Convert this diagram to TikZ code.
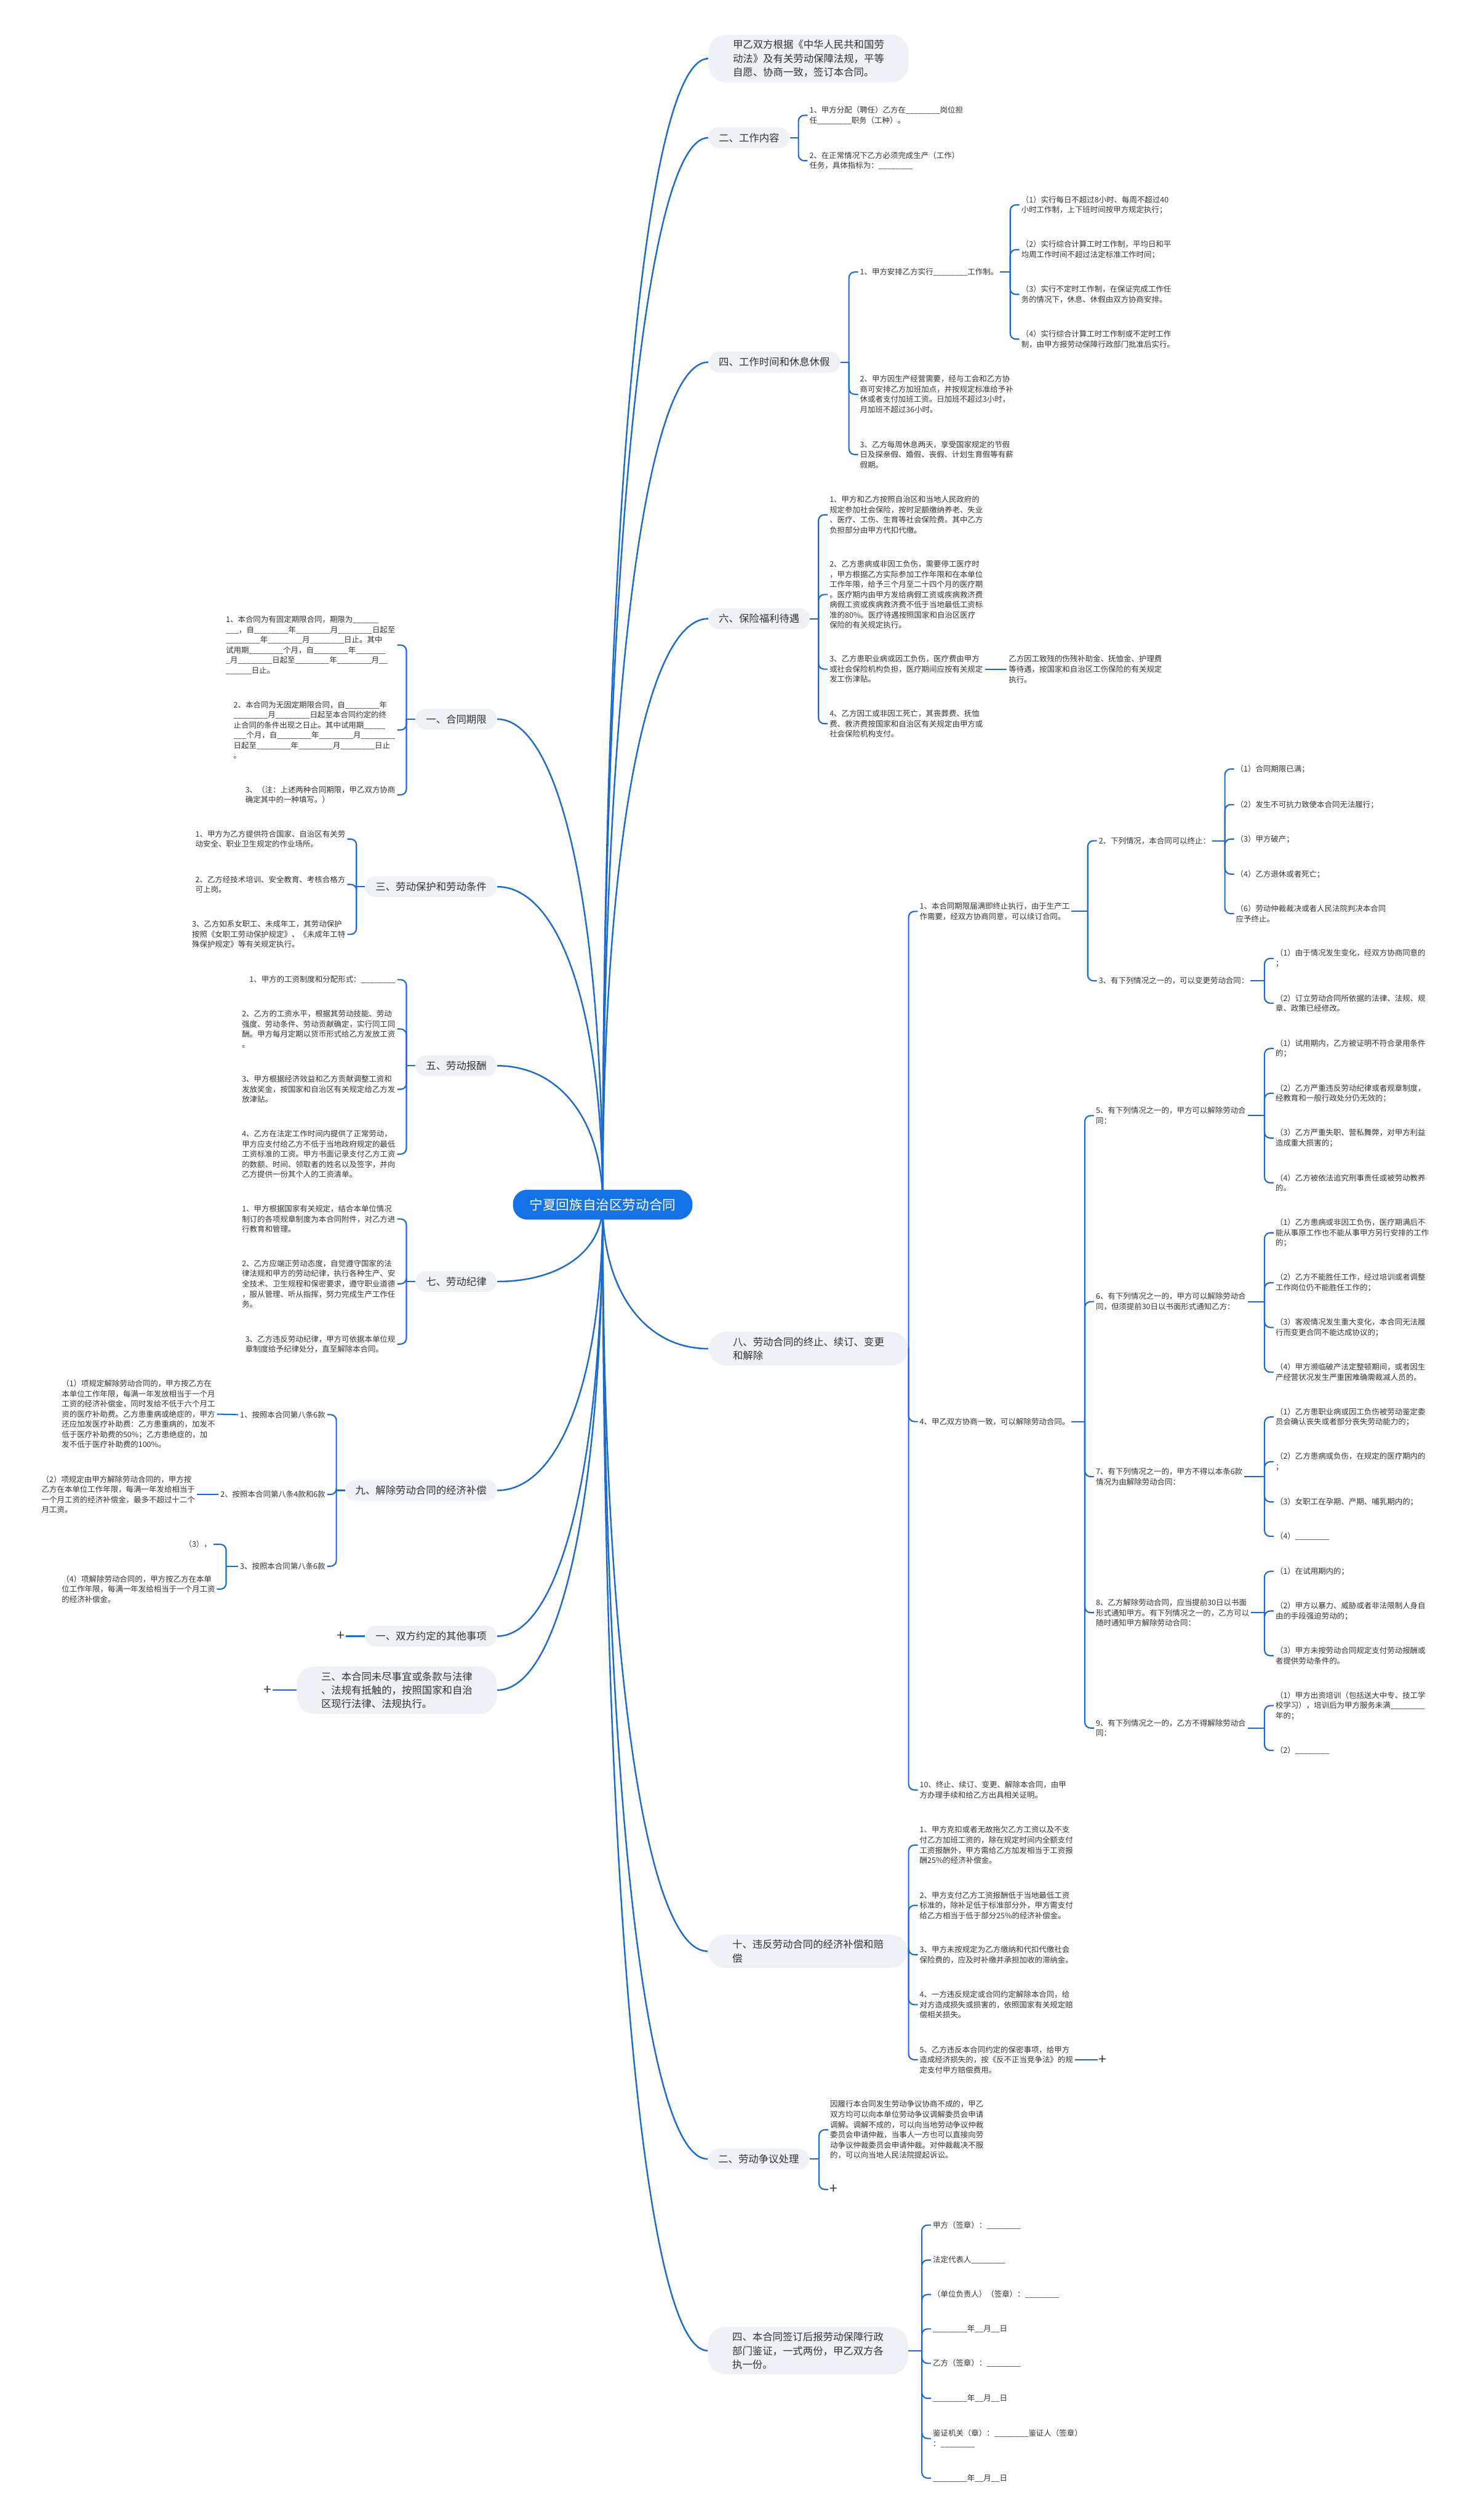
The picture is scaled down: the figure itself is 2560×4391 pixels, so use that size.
\documentclass[tikz,border=0pt]{standalone}
\usepackage{fontspec}
\setmainfont{Noto Sans CJK SC}
\usepackage{tikz}
\usetikzlibrary{
    positioning,
    calc,
    backgrounds
}

\definecolor{hubblue}{HTML}{1373E6}
\definecolor{lineblue}{HTML}{1D6ACD}
\definecolor{topicbg}{HTML}{EEF2F6}
\definecolor{inkgray}{HTML}{333333}

\newcommand{\leafsize}{\fontsize{7.6pt}{10.1pt}\selectfont}
\newcommand{\topicsize}{\fontsize{10pt}{13.6pt}\selectfont}
\newcommand{\hubsize}{\fontsize{13.2pt}{16pt}\selectfont}
\newcommand{\plussize}{\fontsize{14pt}{14pt}\selectfont}
\newcommand{\bk}{\_\_\_\_\_\_\_\_}

% parent -> children, trunk just before the children
\newcommand{\kidsR}[3]{%
    \path (#1.east -| #2.west) ++(-16,0) coordinate (#1-t);
    \draw[elbow] (#1.east) -- (#1-t);
    \foreach \k in {#3} {\draw[elbow, rounded corners=0.2cm] (#1-t) |- (\k.west);}
}
\newcommand{\kidsL}[3]{%
    \path (#1.west -| #2.east) ++(16,0) coordinate (#1-t);
    \draw[elbow] (#1.west) -- (#1-t);
    \foreach \k in {#3} {\draw[elbow, rounded corners=0.2cm] (#1-t) |- (\k.east);}
}
% hub -> main topics
\newcommand{\linkR}[1]{%
    \draw[spoke] let \p1=(hub.center), \p2=(#1.west) in
        (\p1) .. controls (\x1,{\y1+0.6*(\y2-\y1)}) and ({\x1+0.4*(\x2-\x1)},\y2) .. (\p2);}
\newcommand{\linkL}[1]{%
    \draw[spoke] let \p1=(hub.center), \p2=(#1.east) in
        (\p1) .. controls (\x1,{\y1+0.6*(\y2-\y1)}) and ({\x1+0.4*(\x2-\x1)},\y2) .. (\p2);}

\begin{document}
\begin{tikzpicture}[x=0.02cm, y=-0.02cm,
    hub/.style={fill=hubblue, text=white, font=\hubsize, rounded corners=0.5cm,
                minimum width=6.26cm, minimum height=1.04cm},
    topic/.style={anchor=west, fill=topicbg, text=inkgray, font=\topicsize,
                  rounded corners=0.36cm, inner xsep=0.36cm, inner ysep=0.2cm},
    ltopic/.style={topic, anchor=east},
    wtopic/.style={topic, align=left, inner xsep=0.85cm, inner ysep=0.18cm, rounded corners=0.6cm},
    lwtopic/.style={wtopic, anchor=east},
    leaf/.style={anchor=west, align=left, font=\leafsize, text=inkgray,
                 inner xsep=0.06cm, inner ysep=0.06cm},
    lleaf/.style={leaf, anchor=east},
    plusmark/.style={font=\plussize, text=inkgray, inner sep=1pt},
    spoke/.style={draw=lineblue, line width=1.5pt},
    elbow/.style={draw=lineblue, line width=1.3pt}]
\useasboundingbox (0,0) rectangle (2560,4391);
\begin{scope}[on background layer]
    \fill[white] (0,0) rectangle (2560,4391);
\end{scope}

% centre
\node[hub] (hub) at (1050,2099) {宁夏回族自治区劳动合同};

% ---- right side ----
\node[wtopic] (intro) at (1234,102) {甲乙双方根据《中华人民共和国劳\\动法》及有关劳动保障法规，平等\\自愿、协商一致，签订本合同。};

\node[topic] (duty) at (1234,240) {二、工作内容};
\node[leaf] (duty1) at (1407,201) {1、甲方分配（聘任）乙方在\bk{}岗位担\\任\bk{}职务（工种）。};
\node[leaf] (duty2) at (1407,280) {2、在正常情况下乙方必须完成生产（工作）\\任务，具体指标为：\bk};

\node[topic] (hours) at (1234,631) {四、工作时间和休息休假};
\node[leaf] (hours1) at (1495,474) {1、甲方安排乙方实行\bk{}工作制。};
\node[leaf] (hours2) at (1495,687) {2、甲方因生产经营需要，经与工会和乙方协\\商可安排乙方加班加点，并按规定标准给予补\\休或者支付加班工资。日加班不超过3小时，\\月加班不超过36小时。};
\node[leaf] (hours3) at (1495,792) {3、乙方每周休息两天，享受国家规定的节假\\日及探亲假、婚假、丧假、计划生育假等有薪\\假期。};
\node[leaf] (hours1a) at (1776,357) {（1）实行每日不超过8小时、每周不超过40\\小时工作制，上下班时间按甲方规定执行；};
\node[leaf] (hours1b) at (1776,435) {（2）实行综合计算工时工作制，平均日和平\\均周工作时间不超过法定标准工作时间；};
\node[leaf] (hours1c) at (1776,513) {（3）实行不定时工作制，在保证完成工作任\\务的情况下，休息、休假由双方协商安排。};
\node[leaf] (hours1d) at (1776,591) {（4）实行综合计算工时工作制或不定时工作\\制，由甲方报劳动保障行政部门批准后实行。};

\node[topic] (insure) at (1234,1078) {六、保险福利待遇};
\node[leaf] (insure1) at (1442,897) {1、甲方和乙方按照自治区和当地人民政府的\\规定参加社会保险，按时足额缴纳养老、失业\\、医疗、工伤、生育等社会保险费。其中乙方\\负担部分由甲方代扣代缴。};
\node[leaf] (insure2) at (1442,1036) {2、乙方患病或非因工负伤，需要停工医疗时\\，甲方根据乙方实际参加工作年限和在本单位\\工作年限，给予三个月至二十四个月的医疗期\\。医疗期内由甲方发给病假工资或疾病救济费\\病假工资或疾病救济费不低于当地最低工资标\\准的80\%。医疗待遇按照国家和自治区医疗\\保险的有关规定执行。};
\node[leaf] (insure3) at (1442,1166) {3、乙方患职业病或因工负伤，医疗费由甲方\\或社会保险机构负担，医疗期间应按有关规定\\发工伤津贴。};
\node[leaf] (insure3a) at (1754,1166) {乙方因工致残的伤残补助金、抚恤金、护理费\\等待遇，按国家和自治区工伤保险的有关规定\\执行。};
\node[leaf] (insure4) at (1442,1261) {4、乙方因工或非因工死亡，其丧葬费、抚恤\\费、救济费按国家和自治区有关规定由甲方或\\社会保险机构支付。};

\node[wtopic] (change) at (1234,2350) {八、劳动合同的终止、续订、变更\\和解除};
\node[leaf] (change1) at (1599,1588) {1、本合同期限届满即终止执行，由于生产工\\作需要，经双方协商同意，可以续订合同。};
\node[leaf] (stop) at (1911,1465) {2、下列情况，本合同可以终止：};
\node[leaf] (stop1) at (2150,1340) {（1）合同期限已满；};
\node[leaf] (stop2) at (2150,1402) {（2）发生不可抗力致使本合同无法履行；};
\node[leaf] (stop3) at (2150,1462) {（3）甲方破产；};
\node[leaf] (stop4) at (2150,1523) {（4）乙方退休或者死亡；};
\node[leaf] (stop6) at (2150,1592) {（6）劳动仲裁裁决或者人民法院判决本合同\\应予终止。};
\node[leaf] (alter) at (1911,1709) {3、有下列情况之一的，可以变更劳动合同：};
\node[leaf] (alter1) at (2219,1670) {（1）由于情况发生变化，经双方协商同意的\\；};
\node[leaf] (alter2) at (2219,1748) {（2）订立劳动合同所依据的法律、法规、规\\章、政策已经修改。};
\node[leaf] (change4) at (1599,2477) {4、甲乙双方协商一致，可以解除劳动合同。};
\node[leaf] (fire5) at (1906,1944) {5、有下列情况之一的，甲方可以解除劳动合\\同：};
\node[leaf] (fire5a) at (2219,1827) {（1）试用期内，乙方被证明不符合录用条件\\的；};
\node[leaf] (fire5b) at (2219,1905) {（2）乙方严重违反劳动纪律或者规章制度，\\经教育和一般行政处分仍无效的；};
\node[leaf] (fire5c) at (2219,1983) {（3）乙方严重失职、营私舞弊，对甲方利益\\造成重大损害的；};
\node[leaf] (fire5d) at (2219,2061) {（4）乙方被依法追究刑事责任或被劳动教养\\的。};
\node[leaf] (fire6) at (1906,2268) {6、有下列情况之一的，甲方可以解除劳动合\\同，但须提前30日以书面形式通知乙方：};
\node[leaf] (fire6a) at (2219,2148) {（1）乙方患病或非因工负伤，医疗期满后不\\能从事原工作也不能从事甲方另行安排的工作\\的；};
\node[leaf] (fire6b) at (2219,2235) {（2）乙方不能胜任工作，经过培训或者调整\\工作岗位仍不能胜任工作的；};
\node[leaf] (fire6c) at (2219,2313) {（3）客观情况发生重大变化，本合同无法履\\行而变更合同不能达成协议的；};
\node[leaf] (fire6d) at (2219,2391) {（4）甲方濒临破产法定整顿期间，或者因生\\产经营状况发生严重困难确需裁减人员的。};
\node[leaf] (fire7) at (1906,2573) {7、有下列情况之一的，甲方不得以本条6款\\情况为由解除劳动合同：};
\node[leaf] (fire7a) at (2219,2469) {（1）乙方患职业病或因工负伤被劳动鉴定委\\员会确认丧失或者部分丧失劳动能力的；};
\node[leaf] (fire7b) at (2219,2547) {（2）乙方患病或负伤，在规定的医疗期内的\\；};
\node[leaf] (fire7c) at (2219,2617) {（3）女职工在孕期、产期、哺乳期内的；};
\node[leaf] (fire7d) at (2219,2677) {（4）\bk};
\node[leaf] (quit8) at (1906,2810) {8、乙方解除劳动合同，应当提前30日以书面\\形式通知甲方。有下列情况之一的，乙方可以\\随时通知甲方解除劳动合同：};
\node[leaf] (quit8a) at (2219,2738) {（1）在试用期内的；};
\node[leaf] (quit8b) at (2219,2807) {（2）甲方以暴力、威胁或者非法限制人身自\\由的手段强迫劳动的；};
\node[leaf] (quit8c) at (2219,2885) {（3）甲方未按劳动合同规定支付劳动报酬或\\者提供劳动条件的。};
\node[leaf] (quit9) at (1906,3011) {9、有下列情况之一的，乙方不得解除劳动合\\同：};
\node[leaf] (quit9a) at (2219,2972) {（1）甲方出资培训（包括送大中专、技工学\\校学习），培训后为甲方服务未满\bk\\年的；};
\node[leaf] (quit9b) at (2219,3050) {（2）\bk};
\node[leaf] (change10) at (1599,3119) {10、终止、续订、变更、解除本合同，由甲\\方办理手续和给乙方出具相关证明。};

\node[wtopic] (breach) at (1233,3400) {十、违反劳动合同的经济补偿和赔\\偿};
\node[leaf] (breach1) at (1599,3215) {1、甲方克扣或者无故拖欠乙方工资以及不支\\付乙方加班工资的，除在规定时间内全额支付\\工资报酬外，甲方需给乙方加发相当于工资报\\酬25\%的经济补偿金。};
\node[leaf] (breach2) at (1599,3320) {2、甲方支付乙方工资报酬低于当地最低工资\\标准的，除补足低于标准部分外，甲方需支付\\给乙方相当于低于部分25\%的经济补偿金。};
\node[leaf] (breach3) at (1599,3406) {3、甲方未按规定为乙方缴纳和代扣代缴社会\\保险费的，应及时补缴并承担加收的滞纳金。};
\node[leaf] (breach4) at (1599,3493) {4、一方违反规定或合同约定解除本合同，给\\对方造成损失或损害的，依照国家有关规定赔\\偿相关损失。};
\node[leaf] (breach5) at (1599,3589) {5、乙方违反本合同约定的保密事项，给甲方\\造成经济损失的，按《反不正当竞争法》的规\\定支付甲方赔偿费用。};
\node[plusmark] (breach5p) at (1921,3589) {+};

\node[topic] (dispute) at (1233,3762) {二、劳动争议处理};
\node[leaf] (dispute1) at (1443,3711) {因履行本合同发生劳动争议协商不成的，甲乙\\双方均可以向本单位劳动争议调解委员会申请\\调解。调解不成的，可以向当地劳动争议仲裁\\委员会申请仲裁，当事人一方也可以直接向劳\\动争议仲裁委员会申请仲裁。对仲裁裁决不服\\的，可以向当地人民法院提起诉讼。};
\node[plusmark, anchor=west] (dispute2) at (1443,3815) {+};

\node[wtopic] (sign) at (1233,4096) {四、本合同签订后报劳动保障行政\\部门鉴证，一式两份，甲乙双方各\\执一份。};
\node[leaf] (sign1) at (1622,3877) {甲方（签章）：\bk};
\node[leaf] (sign2) at (1622,3938) {法定代表人\bk};
\node[leaf] (sign3) at (1622,3998) {（单位负责人）（签章）：\bk};
\node[leaf] (sign4) at (1622,4058) {\bk{}年\_\_月\_\_日};
\node[leaf] (sign5) at (1622,4118) {乙方（签章）：\bk};
\node[leaf] (sign6) at (1622,4179) {\bk{}年\_\_月\_\_日};
\node[leaf] (sign7) at (1622,4249) {鉴证机关（章）：\bk{}鉴证人（签章）\\：\bk};
\node[leaf] (sign8) at (1622,4318) {\bk{}年\_\_月\_\_日};

% ---- left side ----
\node[ltopic] (term) at (866,1253) {一、合同期限};
\node[lleaf] (term1) at (692,1124) {1、本合同为有固定期限合同，期限为\_\_\_\_\_\_\\\_\_\_，自\bk{}年\bk{}月\bk{}日起至\\\bk{}年\bk{}月\bk{}日止。其中\\试用期\bk{}个月，自\bk{}年\_\_\_\_\_\_\_\\\_月\bk{}日起至\bk{}年\bk{}月\_\_\\\_\_\_\_\_\_日止。};
\node[lleaf] (term2) at (692,1272) {2、本合同为无固定期限合同，自\bk{}年\\\bk{}月\bk{}日起至本合同约定的终\\止合同的条件出现之日止。其中试用期\_\_\_\_\_\\\_\_\_个月，自\bk{}年\bk{}月\bk\\日起至\bk{}年\bk{}月\bk{}日止\\。};
\node[lleaf] (term3) at (692,1385) {3、（注：上述两种合同期限，甲乙双方协商\\确定其中的一种填写。）};

\node[ltopic] (protect) at (866,1545) {三、劳动保护和劳动条件};
\node[lleaf] (protect1) at (605,1462) {1、甲方为乙方提供符合国家、自治区有关劳\\动安全、职业卫生规定的作业场所。};
\node[lleaf] (protect2) at (605,1541) {2、乙方经技术培训、安全教育、考核合格方\\可上岗。};
\node[lleaf] (protect3) at (605,1628) {3、乙方如系女职工、未成年工，其劳动保护\\按照《女职工劳动保护规定》、《未成年工特\\殊保护规定》等有关规定执行。};

\node[ltopic] (pay) at (866,1857) {五、劳动报酬};
\node[lleaf] (pay1) at (692,1707) {1、甲方的工资制度和分配形式：\bk};
\node[lleaf] (pay2) at (692,1793) {2、乙方的工资水平，根据其劳动技能、劳动\\强度、劳动条件、劳动贡献确定，实行同工同\\酬。甲方每月定期以货币形式给乙方发放工资\\。};
\node[lleaf] (pay3) at (692,1898) {3、甲方根据经济效益和乙方贡献调整工资和\\发放奖金，按国家和自治区有关规定给乙方发\\放津贴。};
\node[lleaf] (pay4) at (692,2011) {4、乙方在法定工作时间内提供了正常劳动，\\甲方应支付给乙方不低于当地政府规定的最低\\工资标准的工资。甲方书面记录支付乙方工资\\的数额、时间、领取者的姓名以及签字，并向\\乙方提供一份其个人的工资清单。};

\node[ltopic] (rules) at (866,2233) {七、劳动纪律};
\node[lleaf] (rules1) at (692,2124) {1、甲方根据国家有关规定，结合本单位情况\\制订的各项规章制度为本合同附件，对乙方进\\行教育和管理。};
\node[lleaf] (rules2) at (692,2237) {2、乙方应端正劳动态度，自觉遵守国家的法\\律法规和甲方的劳动纪律，执行各种生产、安\\全技术、卫生规程和保密要求，遵守职业道德\\，服从管理、听从指挥，努力完成生产工作任\\务。};
\node[lleaf] (rules3) at (692,2342) {3、乙方违反劳动纪律，甲方可依据本单位规\\章制度给予纪律处分，直至解除本合同。};

\node[ltopic] (comp) at (866,2597) {九、解除劳动合同的经济补偿};
\node[lleaf] (comp1) at (570,2465) {1、按照本合同第八条6款};
\node[lleaf] (comp1a) at (378,2464) {（1）项规定解除劳动合同的，甲方按乙方在\\本单位工作年限，每满一年发放相当于一个月\\工资的经济补偿金，同时发给不低于六个月工\\资的医疗补助费。乙方患重病或绝症的，甲方\\还应加发医疗补助费：乙方患重病的，加发不\\低于医疗补助费的50\%；乙方患绝症的，加\\发不低于医疗补助费的100\%。};
\node[lleaf] (comp2) at (570,2604) {2、按照本合同第八条4款和6款};
\node[lleaf] (comp2a) at (343,2604) {（2）项规定由甲方解除劳动合同的，甲方按\\乙方在本单位工作年限，每满一年发给相当于\\一个月工资的经济补偿金，最多不超过十二个\\月工资。};
\node[lleaf] (comp3) at (570,2729) {3、按照本合同第八条6款};
\node[lleaf] (comp3a) at (372,2691) {（3），};
\node[lleaf] (comp3b) at (378,2769) {（4）项解除劳动合同的，甲方按乙方在本单\\位工作年限，每满一年发给相当于一个月工资\\的经济补偿金。};

\node[ltopic] (other) at (866,2851) {一、双方约定的其他事项};
\node[plusmark] (otherp) at (594,2851) {+};

\node[lwtopic] (law) at (866,2945) {三、本合同未尽事宜或条款与法律\\、法规有抵触的，按照国家和自治\\区现行法律、法规执行。};
\node[plusmark] (lawp) at (466,2945) {+};

% ---- connectors ----
\begin{scope}[on background layer]
    \foreach \tp in {intro,duty,hours,insure,change,breach,dispute,sign} {\linkR{\tp}}
    \foreach \tp in {term,protect,pay,rules,comp,other,law} {\linkL{\tp}}
\end{scope}

\kidsR{duty}{duty1}{duty1,duty2}
\kidsR{hours}{hours1}{hours1,hours2,hours3}
\kidsR{hours1}{hours1a}{hours1a,hours1b,hours1c,hours1d}
\kidsR{insure}{insure1}{insure1,insure2,insure3,insure4}
\draw[elbow] (insure3.east) -- (insure3a.west);
\kidsR{change}{change1}{change1,change4,change10}
\kidsR{change1}{stop}{stop,alter}
\kidsR{stop}{stop1}{stop1,stop2,stop3,stop4,stop6}
\kidsR{alter}{alter1}{alter1,alter2}
\kidsR{change4}{fire5}{fire5,fire6,fire7,quit8,quit9}
\kidsR{fire5}{fire5a}{fire5a,fire5b,fire5c,fire5d}
\kidsR{fire6}{fire6a}{fire6a,fire6b,fire6c,fire6d}
\kidsR{fire7}{fire7a}{fire7a,fire7b,fire7c,fire7d}
\kidsR{quit8}{quit8a}{quit8a,quit8b,quit8c}
\kidsR{quit9}{quit9a}{quit9a,quit9b}
\kidsR{breach}{breach1}{breach1,breach2,breach3,breach4,breach5}
\draw[elbow] (breach5.east) -- (breach5p.west);
\kidsR{dispute}{dispute1}{dispute1,dispute2}
\kidsR{sign}{sign1}{sign1,sign2,sign3,sign4,sign5,sign6,sign7,sign8}

\kidsL{term}{term1}{term1,term2,term3}
\kidsL{protect}{protect1}{protect1,protect2,protect3}
\kidsL{pay}{pay1}{pay1,pay2,pay3,pay4}
\kidsL{rules}{rules1}{rules1,rules2,rules3}
\kidsL{comp}{comp1}{comp1,comp2,comp3}
\draw[elbow] (comp1.west) -- (comp1a.east);
\draw[elbow] (comp2.west) -- (comp2a.east);
\kidsL{comp3}{comp3b}{comp3a,comp3b}
\draw[elbow] (other.west) -- (otherp.east);
\draw[elbow] (law.west) -- (lawp.east);
\end{tikzpicture}
\end{document}
